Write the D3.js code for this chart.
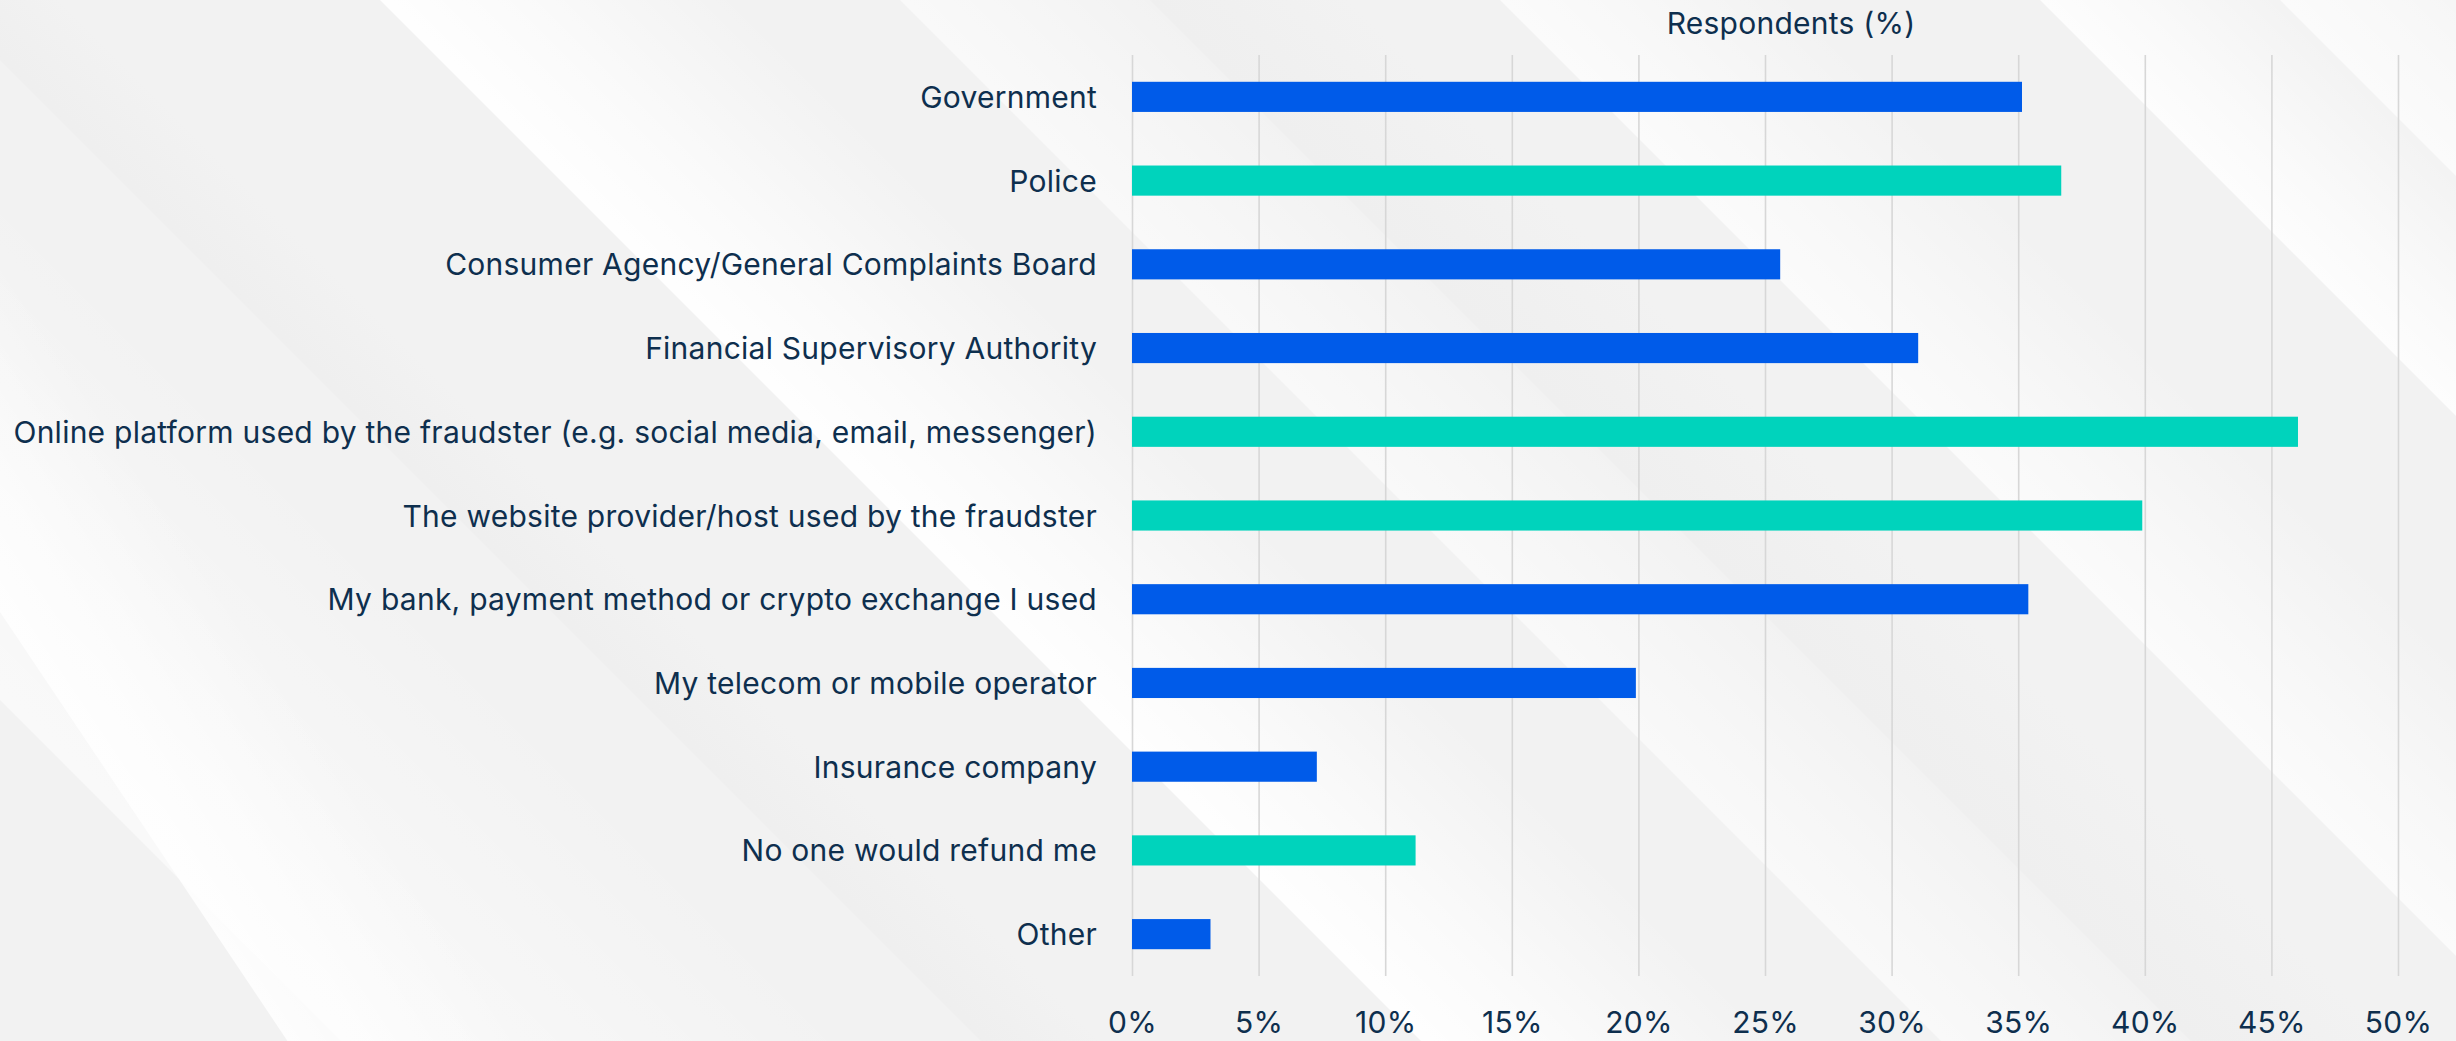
<!DOCTYPE html>
<html>
<head>
<meta charset="utf-8">
<script src="https://cdn.jsdelivr.net/npm/d3@7"></script>
<style>
  html, body { margin: 0; padding: 0; background: #f2f2f2; }
  svg { display: block; }
  text { font-family: Inter, "Noto Sans", sans-serif; fill: #0e2f4e; }
</style>
</head>
<body>
<svg id="chart" width="2456" height="1041"></svg>
<script>
// Where people expected to get a refund, share of respondents (%)
const categories = [
  "Government",
  "Police",
  "Consumer Agency/General Complaints Board",
  "Financial Supervisory Authority",
  "Online platform used by the fraudster (e.g. social media, email, messenger)",
  "The website provider/host used by the fraudster",
  "My bank, payment method or crypto exchange I used",
  "My telecom or mobile operator",
  "Insurance company",
  "No one would refund me",
  "Other"
];
const values = [35.15, 36.7, 25.6, 31.05, 46.05, 39.9, 35.4, 19.9, 7.3, 11.2, 3.1];
// 0 = blue bar, 1 = teal bar
const barGroup = [0, 1, 0, 0, 1, 1, 0, 0, 0, 1, 0];
const tickValues = [0, 5, 10, 15, 20, 25, 30, 35, 40, 45, 50];
const axisTitle = "Respondents (%)";

const W = 2456, H = 1041;
const plot = { left: 1132, right: 2398, top: 55, bottom: 976 };
const fontSize = "30px";
const tracking = "0.25px";

const svg = d3.select("#chart");
const defs = svg.append("defs");

// ---- soft diagonal light streaks in the backdrop ----
svg.append("rect").attr("width", W).attr("height", H).attr("fill", "#f2f2f2");

// [x at top, horizontal slope (dx per dy), width, peak opacity, colour]
const streaks = [
  [-700, 1.0, 520, 0.55, "#ffffff"],
  [-60, 1.0, 120, 0.35, "#e9e9e9"],
  [380, 1.0, 360, 0.95, "#ffffff"],
  [900, 1.0, 260, 0.55, "#ffffff"],
  [1150, 1.0, 200, 0.3, "#e8e8e8"],
  [1500, 1.0, 300, 0.7, "#ffffff"],
  [2040, 1.0, 260, 0.85, "#ffffff"],
  [2280, 1.0, 300, 0.7, "#ffffff"],
  [-410, 0.67, 240, 0.85, "#ffffff"]
];
streaks.forEach((s, i) => {
  const [x0, k, w, op, col] = s;
  const d = 1 + k * k;
  const g = defs.append("linearGradient")
    .attr("id", "streak" + i)
    .attr("gradientUnits", "userSpaceOnUse")
    .attr("x1", x0).attr("y1", 0)
    .attr("x2", x0 + w / d).attr("y2", -k * w / d);
  g.append("stop").attr("offset", 0).attr("stop-color", col).attr("stop-opacity", op);
  g.append("stop").attr("offset", 0.35).attr("stop-color", col).attr("stop-opacity", op * 0.7);
  g.append("stop").attr("offset", 1).attr("stop-color", col).attr("stop-opacity", 0);
  const pts = [[x0, 0], [x0 + w, 0], [x0 + w + k * H, H], [x0 + k * H, H]];
  svg.append("path")
    .attr("d", "M" + pts.map(p => p.join(",")).join("L") + "Z")
    .attr("fill", `url(#streak${i})`);
});

// ---- scales ----
const x = d3.scaleLinear().domain([0, 50]).range([plot.left, plot.right]);
const y = d3.scaleBand().domain(categories)
  .range([plot.top, plot.bottom])
  .paddingInner(0.64).paddingOuter(0.32);
const color = d3.scaleOrdinal().domain([0, 1]).range(["#005be9", "#00d3bc"]);

// ---- vertical grid + tick labels ----
const axis = d3.axisBottom(x)
  .tickValues(tickValues)
  .tickFormat(d => d + "%")
  .tickSize(-(plot.bottom - plot.top))
  .tickPadding(36);
const gx = svg.append("g")
  .attr("transform", `translate(0,${plot.bottom})`)
  .call(axis);
gx.select(".domain").remove();
gx.selectAll(".tick line").attr("stroke", "#d7d7d7").attr("stroke-width", 1.6);
gx.selectAll(".tick text")
  .attr("fill", "#0e2f4e")
  .style("font-size", fontSize)
  .style("letter-spacing", tracking)
  .style("font-family", "Inter, sans-serif");

// ---- bars ----
svg.append("g").selectAll("rect")
  .data(categories)
  .join("rect")
  .attr("x", x(0))
  .attr("y", d => y(d))
  .attr("width", (d, i) => x(values[i]) - x(0))
  .attr("height", y.bandwidth())
  .attr("fill", (d, i) => color(barGroup[i]));

// ---- category labels ----
svg.append("g").selectAll("text")
  .data(categories)
  .join("text")
  .attr("x", plot.left - 35)
  .attr("y", d => y(d) + y.bandwidth() / 2 + 11)
  .attr("text-anchor", "end")
  .style("font-size", fontSize)
  .style("letter-spacing", tracking)
  .text(d => d);

// ---- axis title ----
svg.append("text")
  .attr("x", 1791)
  .attr("y", 34)
  .attr("text-anchor", "middle")
  .style("font-size", fontSize)
  .style("letter-spacing", tracking)
  .text(axisTitle);
</script>
</body>
</html>
